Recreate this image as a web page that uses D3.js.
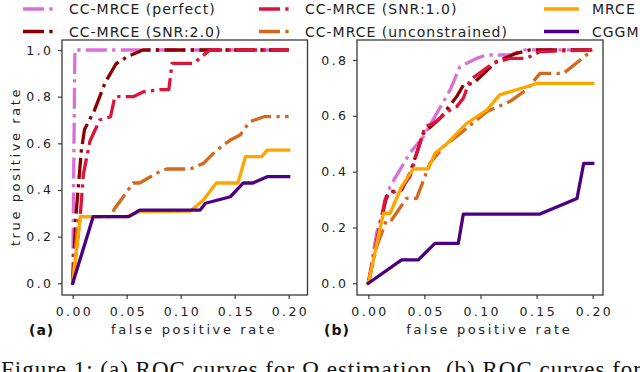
<!DOCTYPE html>
<html>
<head>
<meta charset="utf-8">
<script src="https://cdn.jsdelivr.net/npm/d3@7"></script>
<style>
  html, body { margin: 0; padding: 0; background: #fff; }
  svg { display: block; }
</style>
</head>
<body>
<svg id="chart" width="640" height="372"></svg>
<script>
// ---------- data ----------
const seriesNames = ["CC-MRCE (perfect)", "CC-MRCE (SNR:2.0)", "CC-MRCE (SNR:1.0)",
                     "CC-MRCE (unconstrained)", "MRCE", "CGGM"];
const seriesColors = ["#DA70D6", "#8B0000", "#DC143C", "#D2691E", "#FFA500", "#4B0082"];
const seriesDashed = [true, true, true, true, false, false];

const xTicks = [0, 0.05, 0.1, 0.15, 0.2];
const yTicksA = [0, 0.2, 0.4, 0.6, 0.8, 1.0];
const yTicksB = [0, 0.2, 0.4, 0.6, 0.8];

// panel (a): [fpr, tpr]
const perfectA = [[0,0],[0.002,1.0],[0.2,1.0]];
const snr2A = [[0,0],[0.003,0.29],[0.008,0.57],[0.011,0.66],[0.02,0.74],[0.03,0.86],[0.04,0.94],[0.05,0.97],[0.065,1.0],[0.2,1.0]];
const snr1A = [[0,0],[0.007,0.29],[0.01,0.47],[0.016,0.61],[0.025,0.70],[0.035,0.714],[0.039,0.80],[0.056,0.80],[0.065,0.82],[0.081,0.83],[0.089,0.83],[0.092,0.943],[0.112,0.943],[0.127,1.0],[0.2,1.0]];
const unconA = [[0,0],[0.005,0.286],[0.035,0.286],[0.038,0.314],[0.056,0.43],[0.062,0.43],[0.081,0.48],[0.087,0.49],[0.109,0.49],[0.121,0.514],[0.133,0.57],[0.146,0.614],[0.155,0.636],[0.164,0.693],[0.177,0.714],[0.2,0.714]];
const mrceA = [[0,0],[0.007,0.286],[0.05,0.286],[0.062,0.307],[0.109,0.31],[0.121,0.357],[0.133,0.43],[0.153,0.43],[0.16,0.543],[0.175,0.543],[0.18,0.571],[0.2,0.571]];
const cggmA = [[0,0],[0.019,0.286],[0.052,0.286],[0.062,0.314],[0.118,0.314],[0.123,0.343],[0.146,0.371],[0.158,0.43],[0.167,0.43],[0.18,0.457],[0.2,0.457]];

// panel (b)
const perfectB = [[0,0],[0.0074,0.18],[0.0193,0.346],[0.037,0.466],[0.049,0.525],[0.073,0.693],[0.0817,0.776],[0.0966,0.806],[0.1055,0.818],[0.126,0.818],[0.138,0.836],[0.2,0.836]];
const snr2B = [[0,0],[0.0104,0.203],[0.016,0.31],[0.019,0.328],[0.0297,0.334],[0.037,0.394],[0.049,0.537],[0.064,0.591],[0.0788,0.669],[0.0847,0.71],[0.0936,0.716],[0.114,0.794],[0.132,0.824],[0.144,0.836],[0.2,0.836]];
const snr1B = [[0,0],[0.009,0.18],[0.015,0.30],[0.019,0.322],[0.028,0.334],[0.037,0.382],[0.0505,0.561],[0.058,0.573],[0.073,0.621],[0.0788,0.633],[0.0847,0.663],[0.0906,0.728],[0.111,0.788],[0.126,0.806],[0.141,0.806],[0.153,0.83],[0.2,0.836]];
const unconB = [[0,0],[0.0074,0.131],[0.0163,0.227],[0.0208,0.227],[0.034,0.304],[0.043,0.304],[0.055,0.43],[0.067,0.49],[0.082,0.537],[0.1055,0.615],[0.126,0.651],[0.141,0.693],[0.153,0.752],[0.174,0.752],[0.2,0.836]];
const mrceB = [[0,0],[0.0134,0.25],[0.0193,0.25],[0.0297,0.346],[0.040,0.41],[0.0535,0.41],[0.0594,0.466],[0.070,0.50],[0.0877,0.573],[0.1055,0.62],[0.117,0.675],[0.138,0.70],[0.150,0.716],[0.2,0.716]];
const cggmB = [[0,0],[0.0297,0.084],[0.0446,0.084],[0.0594,0.143],[0.0802,0.143],[0.0847,0.248],[0.153,0.248],[0.186,0.304],[0.192,0.43],[0.2,0.43]];

const panelA = [perfectA, snr2A, snr1A, unconA, mrceA, cggmA];
const panelB = [perfectB, snr2B, snr1B, unconB, mrceB, cggmB];

const captionText = "Figure 1: (a) ROC curves for \u03A9 estimation. (b) ROC curves for";

// ---------- drawing ----------
const svg = d3.select("#chart");
const LW = 3.3;
const dashArr = [21, 5.3, 3.3, 5.3].join(",");
const tickFont = "DejaVu Sans, sans-serif";
const tickLS = 2.4;
const labLS = 2.6;

function panel(data, frame, xRange, yDomain, yRange, yTicks, yFmt, label, showYLabel, clipId) {
  const x = d3.scaleLinear().domain([0, 0.2]).range(xRange);
  const y = d3.scaleLinear().domain(yDomain).range(yRange);
  const g = svg.append("g");

  g.append("clipPath").attr("id", clipId).append("rect")
    .attr("x", frame.x0).attr("y", frame.y0)
    .attr("width", frame.x1 - frame.x0).attr("height", frame.y1 - frame.y0);

  const line = d3.line().x(d => x(d[0])).y(d => y(d[1]));
  const lines = g.append("g").attr("clip-path", `url(#${clipId})`);
  data.forEach((s, i) => {
    lines.append("path")
      .attr("d", line(s))
      .attr("fill", "none")
      .attr("stroke", seriesColors[i])
      .attr("stroke-width", LW)
      .attr("stroke-linejoin", "round")
      .attr("stroke-linecap", seriesDashed[i] ? "butt" : "square")
      .attr("stroke-dasharray", seriesDashed[i] ? dashArr : null);
  });

  // frame
  g.append("rect")
    .attr("x", frame.x0).attr("y", frame.y0)
    .attr("width", frame.x1 - frame.x0).attr("height", frame.y1 - frame.y0)
    .attr("fill", "none").attr("stroke", "#3a3a3a").attr("stroke-width", 1.3);

  // axes
  const xAxis = d3.axisBottom(x).tickValues(xTicks).tickFormat(d3.format(".2f"))
    .tickSize(4).tickPadding(8);
  const gx = g.append("g").attr("transform", `translate(0,${frame.y1})`).call(xAxis);
  const yAxis = d3.axisLeft(y).tickValues(yTicks).tickFormat(d3.format(yFmt))
    .tickSize(4).tickPadding(6);
  const gy = g.append("g").attr("transform", `translate(${frame.x0},0)`).call(yAxis);
  [gx, gy].forEach(a => {
    a.select(".domain").remove();
    a.selectAll(".tick line").attr("stroke", "#3a3a3a").attr("stroke-width", 1.2);
    a.selectAll(".tick text")
      .attr("fill", "#222")
      .style("font-family", tickFont)
      .style("font-size", "12.5px")
      .style("letter-spacing", tickLS + "px");
  });
  gx.selectAll(".tick text").attr("dx", (tickLS / 2) + "px");
  gy.selectAll(".tick text").attr("dx", (tickLS - 1) + "px");

  // x label
  g.append("text")
    .attr("x", (frame.x0 + frame.x1) / 2 + 8 + labLS / 2).attr("y", 334)
    .attr("text-anchor", "middle")
    .style("font-family", tickFont).style("font-size", "13px")
    .style("letter-spacing", labLS + "px").attr("fill", "#222")
    .text("false positive rate");

  g.append("text")
    .attr("x", frame.x0 - 33).attr("y", 335)
    .style("font-family", tickFont).style("font-size", "14px").style("font-weight", "bold")
    .style("letter-spacing", "1px").attr("fill", "#111")
    .text(label);

  if (showYLabel) {
    g.append("text")
      .attr("transform", `translate(20,${(frame.y0 + frame.y1) / 2 - 1}) rotate(-90)`)
      .attr("text-anchor", "middle")
      .style("font-family", tickFont).style("font-size", "13px")
      .style("letter-spacing", labLS + "px").attr("fill", "#222")
      .text("true positive rate");
  }
}

panel(panelA, {x0: 62, x1: 307.5, y0: 40, y1: 295}, [72.7, 288.7], [0, 1], [283.3, 50],
      yTicksA, ".1f", "(a)", true, "clipA");
panel(panelB, {x0: 357, x1: 603, y0: 40, y1: 295}, [368.3, 592.7], [0, 0.8], [283.3, 60],
      yTicksB, ".1f", "(b)", false, "clipB");

// legend (3 columns, filled column-wise)
const legX = [23, 259, 544];
const legY = [14, 36.5];
const legend = svg.append("g");
seriesNames.forEach((name, i) => {
  const col = Math.floor(i / 2), row = i % 2;
  const lx = legX[col], ly = legY[row];
  legend.append("line")
    .attr("x1", lx).attr("x2", lx + 35)
    .attr("y1", ly - 5).attr("y2", ly - 5)
    .attr("stroke", seriesColors[i]).attr("stroke-width", LW)
    .attr("stroke-linecap", "butt")
    .attr("stroke-dasharray", seriesDashed[i] ? dashArr : null);
  legend.append("text")
    .attr("x", lx + (col === 2 ? 48 : 46)).attr("y", ly)
    .style("font-family", tickFont).style("font-size", "14px")
    .style("letter-spacing", "1px").attr("fill", "#222")
    .text(name);
});

// caption (cut off at the bottom in the reference)
svg.append("text")
  .attr("x", 1).attr("y", 377)
  .attr("textLength", 640).attr("lengthAdjust", "spacing")
  .style("font-family", "Liberation Serif, serif").style("font-size", "23px")
  .attr("fill", "#111")
  .text(captionText);
</script>
</body>
</html>
